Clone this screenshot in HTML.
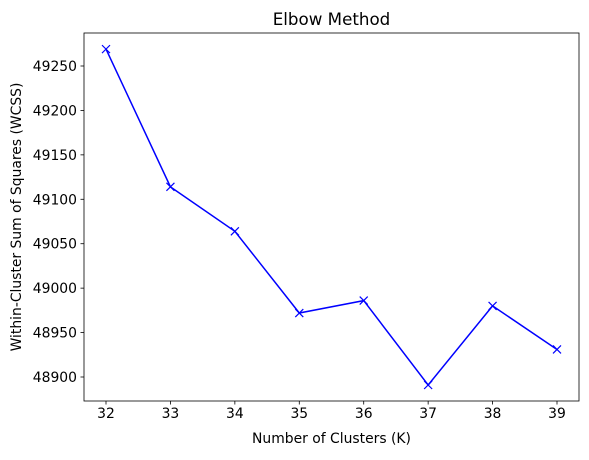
<!DOCTYPE html>
<html><head><meta charset="utf-8"><style>
body{margin:0;background:#fff;}
svg text{font-family:"DejaVu Sans","Liberation Sans",sans-serif;fill:#000;}
</style></head><body>
<svg id="chart" width="589" height="455" xmlns="http://www.w3.org/2000/svg">
<rect width="589" height="455" fill="#fff"/>
<g id="axes"></g>
</svg>
<script>
const categories=[32,33,34,35,36,37,38,39];
const wcss=[49269,49114,49064,48972,48986,48891,48980,48931];
const yTicks=[48900,48950,49000,49050,49100,49150,49200,49250];
const L=84,R=579,T=33,B=401;
const xs=v=>106+(v-32)*(557-106)/7;
const ys=v=>66+(49250-v)*(377-66)/350;
const ns="http://www.w3.org/2000/svg";
const g=document.getElementById('axes');
function mk(t,a,txt){const e=document.createElementNS(ns,t);for(const k in a)e.setAttribute(k,a[k]);if(txt!==undefined)e.textContent=txt;g.appendChild(e);return e;}
const frame=mk('rect',{x:L,y:T,width:R-L,height:B-T,fill:'none',stroke:'#000','stroke-width':0.8});


categories.forEach(c=>{
 const x=xs(c);
 const t=mk('line',{x1:x,x2:x,y1:B,y2:B+3.5,stroke:'#000','stroke-width':0.8});
 
 
 const l=mk('text',{x:x,y:B+17,'font-size':'13.9','text-anchor':'middle'},c);
 
 
});
yTicks.forEach(v=>{
 const y=ys(v);
 const t=mk('line',{x1:L-3.5,x2:L,y1:y,y2:y,stroke:'#000','stroke-width':0.8});
 
 
 const l=mk('text',{x:L-7,y:y+5,'font-size':'13.9','text-anchor':'end'},v);
 
 
});
const pts=categories.map((c,i)=>xs(c)+','+ys(wcss[i])).join(' ');
const line=mk('polyline',{points:pts,fill:'none',stroke:'#0000ff','stroke-width':1.5});


categories.forEach((c,i)=>{
 const x=xs(c),y=ys(wcss[i]),s=4;
 const m=mk('path',{d:`M${x-s},${y-s}L${x+s},${y+s}M${x-s},${y+s}L${x+s},${y-s}`,stroke:'#0000ff','stroke-width':1.2});
 
 
});
const ti=mk('text',{x:(L+R)/2,y:T-8,'font-size':'16.7','text-anchor':'middle'},'Elbow Method');


const xt=mk('text',{x:(L+R)/2,y:443,'font-size':'13.9','text-anchor':'middle'},'Number of Clusters (K)');


const yt=mk('text',{x:0,y:0,'font-size':'13.9','text-anchor':'middle',transform:`translate(21,${(T+B)/2}) rotate(-90)`},'Within-Cluster Sum of Squares (WCSS)');


</script>
</body></html>
